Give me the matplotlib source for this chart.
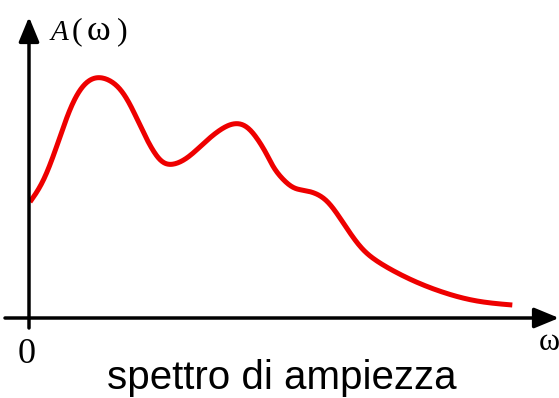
import matplotlib.pyplot as plt
import numpy as np

# curve (omega, A), arbitrary units
omega = [0.000, 0.133, 0.267, 0.400, 0.533, 0.683, 0.867, 1.000, 1.133,
         1.267, 1.383, 1.567, 1.767, 1.933, 2.067, 2.200, 2.367, 2.440,
         2.600, 2.700, 2.800, 2.967, 3.133, 3.300, 3.467, 3.800, 4.133,
         4.467, 4.823]
amp = [1.15, 1.34, 1.70, 2.10, 2.34, 2.42, 2.34, 2.14, 1.84,
       1.59, 1.50, 1.57, 1.77, 1.90, 1.95, 1.90, 1.64, 1.47,
       1.30, 1.27, 1.26, 1.19, 0.94, 0.69, 0.55, 0.37, 0.24,
       0.15, 0.12]

RED = "#ee0000"


def smooth(x, y, n=20):
    """Uniform cubic B-spline over the points (ends clamped), drawing only."""
    p = np.column_stack([x, y])
    p = np.vstack([p[0], p[0], p, p[-1], p[-1]])
    t = np.linspace(0, 1, n, endpoint=False)[:, None]
    b0 = (1 - t) ** 3 / 6
    b1 = (3 * t ** 3 - 6 * t ** 2 + 4) / 6
    b2 = (-3 * t ** 3 + 3 * t ** 2 + 3 * t + 1) / 6
    b3 = t ** 3 / 6
    out = [b0 * p[i] + b1 * p[i + 1] + b2 * p[i + 2] + b3 * p[i + 3]
           for i in range(len(p) - 3)]
    out.append(p[-1][None, :])
    out = np.vstack(out)
    return out[:, 0], out[:, 1]


fig = plt.figure(figsize=(5.59, 3.98), dpi=100)
ax = fig.add_axes([0, 0, 1, 1])
ax.set_xlim(-0.30, 5.29)
ax.set_ylim(-0.81, 3.17)
ax.axis("off")

# axes with arrow heads
arrow = dict(arrowstyle="-|>,head_length=1.5,head_width=0.62", lw=2.5,
             color="black", shrinkA=0, shrinkB=0)
ax.annotate("", xy=(5.29, -0.01), xytext=(-0.25, -0.01), arrowprops=arrow)
ax.annotate("", xy=(-0.01, 3.00), xytext=(-0.01, -0.11), arrowprops=arrow)

sx, sy = smooth(omega, amp)
ax.plot(sx, sy, color=RED, lw=3.6, solid_capstyle="butt")

serif = "Liberation Serif"
base = 2.775
ax.text(0.21, base, "A", family=serif, style="italic", fontsize=21,
        ha="left", va="baseline")
ax.text(0.42, base, "(", family=serif, fontsize=23, ha="left", va="baseline")
ax.text(0.69, base, "ω", family=serif, fontsize=26, ha="center", va="baseline")
ax.text(0.98, base, ")", family=serif, fontsize=23, ha="right", va="baseline")
ax.text(-0.03, -0.46, "0", family=serif, fontsize=26, ha="center", va="baseline")
ax.text(5.19, -0.33, "ω", family=serif, fontsize=23, ha="center", va="baseline")
ax.text(2.52, -0.72, "spettro di ampiezza", family="Liberation Sans",
        fontsize=29, ha="center", va="baseline")

fig.savefig("out.png", dpi=100)
